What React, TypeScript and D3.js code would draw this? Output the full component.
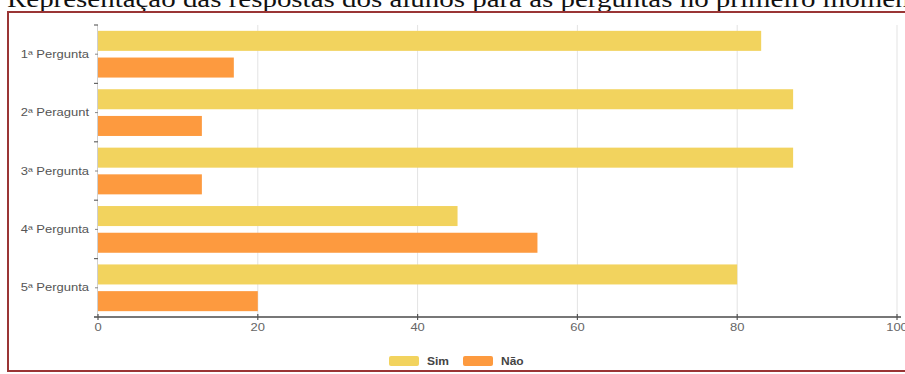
import React, { useEffect, useRef } from "react";
import * as d3 from "d3";

const title = "Representação das respostas dos alunos para as perguntas no primeiro momento";
const categories = ["1ª Pergunta", "2ª Peragunt", "3ª Pergunta", "4ª Pergunta", "5ª Pergunta"];
const seriesNames = ["Sim", "Não"];
const simValues = [83, 87, 87, 45, 80];
const naoValues = [17, 13, 13, 55, 20];
const xTicks = [0, 20, 40, 60, 80, 100];
const colors = ["#f2d35e", "#fd9a3f"];

export default function App() {
  const ref = useRef<SVGSVGElement | null>(null);

  useEffect(() => {
    const svg = d3.select(ref.current);
    svg.selectAll("*").remove();
    const W = 905;
    const left = 98, right = 897, top = 25, bottom = 317;
    const sx = 1.3; // horizontal stretch of the small texts

    // title (clipped at the top)
    svg.append("text")
      .attr("x", 7).attr("y", 7)
      .attr("font-family", "'Liberation Serif', 'DejaVu Serif', serif")
      .attr("font-size", 24)
      .attr("textLength", 925)
      .attr("lengthAdjust", "spacingAndGlyphs")
      .attr("fill", "#111")
      .text(title);

    // frame
    svg.append("rect")
      .attr("x", 8).attr("y", 12).attr("width", W + 10).attr("height", 359)
      .attr("fill", "white").attr("stroke", "#9a3535").attr("stroke-width", 2);

    const x = d3.scaleLinear().domain([0, 100]).range([left, right]);
    const y = d3.scaleBand<string>().domain(categories).range([top, bottom]).paddingInner(0.2).paddingOuter(0.1);
    const sub = d3.scaleBand<string>().domain(seriesNames).range([0, y.bandwidth()]).paddingInner(0.25);

    // grid
    svg.append("g").selectAll("line").data(xTicks.slice(1)).join("line")
      .attr("x1", d => x(d)).attr("x2", d => x(d))
      .attr("y1", top).attr("y2", bottom)
      .attr("stroke", "#e3e3e3").attr("stroke-width", 1);

    // bars
    const rows = categories.map((c, i) => ({ c, vals: [simValues[i], naoValues[i]] }));
    const g = svg.append("g");
    rows.forEach(r => {
      r.vals.forEach((v, j) => {
        g.append("rect")
          .attr("x", x(0))
          .attr("y", (y(r.c) as number) + (sub(seriesNames[j]) as number))
          .attr("width", x(v) - x(0))
          .attr("height", sub.bandwidth())
          .attr("fill", colors[j]);
      });
    });

    // y axis
    const step = y.step();
    const boundaries = d3.range(categories.length + 1).map(i => top + i * step);
    const ya = svg.append("g");
    ya.append("line").attr("x1", left - 0.5).attr("x2", left - 0.5).attr("y1", top).attr("y2", bottom)
      .attr("stroke", "#cfcfcf");
    ya.selectAll("line.b").data(boundaries).join("line").attr("class", "b")
      .attr("x1", left - 4).attr("x2", left).attr("y1", d => d).attr("y2", d => d)
      .attr("stroke", "#666").attr("stroke-width", 1.2);
    ya.selectAll("line.c").data(categories).join("line").attr("class", "c")
      .attr("x1", left - 3).attr("x2", left)
      .attr("y1", d => (y(d) as number) + y.bandwidth() / 2)
      .attr("y2", d => (y(d) as number) + y.bandwidth() / 2)
      .attr("stroke", "#888").attr("stroke-width", 1);
    ya.selectAll("text").data(categories).join("text")
      .attr("transform", d => `translate(89,${(y(d) as number) + y.bandwidth() / 2}) scale(${sx},1)`)
      .attr("dy", "0.35em").attr("text-anchor", "end")
      .attr("font-family", "'Liberation Sans', Arial, sans-serif")
      .attr("font-size", 10).attr("fill", "#555")
      .text(d => d);

    // x axis
    const xa = svg.append("g");
    xa.append("line").attr("x1", left - 4).attr("x2", right + 4).attr("y1", bottom).attr("y2", bottom)
      .attr("stroke", "#777").attr("stroke-width", 2);
    xa.selectAll("line.t").data(xTicks).join("line").attr("class", "t")
      .attr("x1", d => x(d)).attr("x2", d => x(d)).attr("y1", bottom - 3).attr("y2", bottom + 3)
      .attr("stroke", "#555").attr("stroke-width", 1.2);
    xa.selectAll("text").data(xTicks).join("text")
      .attr("transform", d => `translate(${x(d)},${bottom + 14}) scale(${sx},1)`)
      .attr("text-anchor", "middle")
      .attr("font-family", "'Liberation Sans', Arial, sans-serif")
      .attr("font-size", 10).attr("fill", "#666")
      .text(d => String(d));

    // legend
    const legendX = [389, 463];
    const lg = svg.append("g");
    seriesNames.forEach((s, i) => {
      lg.append("rect").attr("x", legendX[i]).attr("y", 356).attr("width", 30).attr("height", 10)
        .attr("rx", 2).attr("fill", colors[i]);
      lg.append("text")
        .attr("transform", `translate(${legendX[i] + 38},361) scale(1.2,1)`)
        .attr("dy", "0.35em")
        .attr("font-family", "'Liberation Sans', Arial, sans-serif")
        .attr("font-size", 10).attr("font-weight", "bold").attr("fill", "#444")
        .text(s);
    });
  }, []);

  return (
    <div style={{ position: "fixed", left: 0, top: 0, width: 905, height: 374, background: "white" }}>
      <svg ref={ref} width={905} height={374} style={{ display: "block" }} />
    </div>
  );
}
